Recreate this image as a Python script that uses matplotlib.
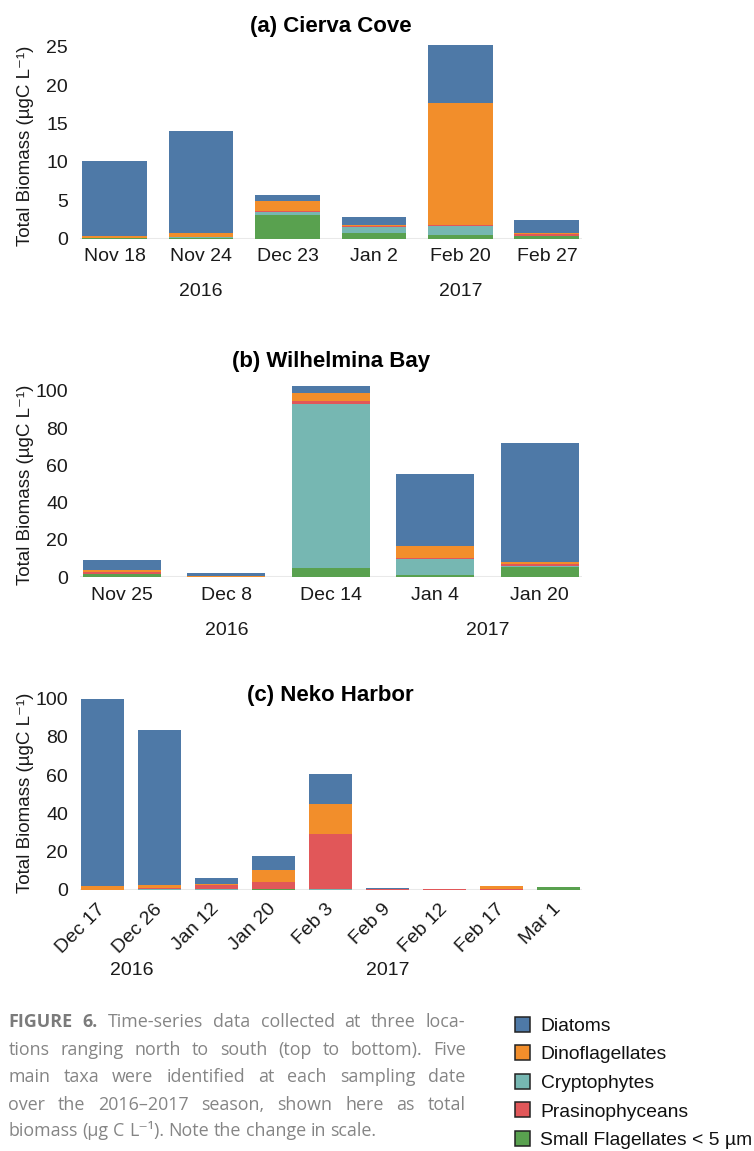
import matplotlib
matplotlib.use('Agg')
import matplotlib.pyplot as plt
from matplotlib.patches import Rectangle
from matplotlib.transforms import blended_transform_factory
import numpy as np

# ---------------- data ----------------
taxa = ['Diatoms', 'Dinoflagellates', 'Cryptophytes', 'Prasinophyceans',
        'Small Flagellates < 5 \u00b5m']
taxa_colors = ['#4e79a7', '#f28e2b', '#76b7b2', '#e15759', '#59a14f']

# (a) Cierva Cove
dates_a = ['Nov 18', 'Nov 24', 'Dec 23', 'Jan 2', 'Feb 20', 'Feb 27']
small_a = [0.05, 0.10, 3.00, 0.75, 0.50, 0.30]
crypto_a = [0.00, 0.05, 0.45, 0.75, 1.10, 0.05]
prasino_a = [0.05, 0.10, 0.15, 0.15, 0.15, 0.30]
dino_a = [0.25, 0.45, 1.30, 0.05, 15.90, 0.05]
diatoms_a = [9.80, 13.30, 0.75, 1.15, 7.60, 1.65]
yticks_a = [0, 5, 10, 15, 20, 25]
years_a = [('2016', 1), ('2017', 4)]

# (b) Wilhelmina Bay
dates_b = ['Nov 25', 'Dec 8', 'Dec 14', 'Jan 4', 'Jan 20']
small_b = [1.6, 0.2, 4.8, 1.1, 5.5]
crypto_b = [0.3, 0.1, 87.9, 8.9, 0.3]
prasino_b = [1.0, 0.1, 1.8, 0.5, 1.5]
dino_b = [1.0, 0.1, 4.1, 6.3, 0.8]
diatoms_b = [5.4, 1.8, 3.9, 38.4, 63.7]
yticks_b = [0, 20, 40, 60, 80, 100]
years_b = [('2016', 1), ('2017', 3.5)]

# (c) Neko Harbor
dates_c = ['Dec 17', 'Dec 26', 'Jan 12', 'Jan 20', 'Feb 3', 'Feb 9', 'Feb 12', 'Feb 17', 'Mar 1']
small_c = [0.1, 0.1, 0.2, 0.5, 0.2, 0.0, 0.0, 0.1, 1.7]
crypto_c = [0.0, 0.6, 0.1, 0.2, 0.1, 0.0, 0.0, 0.0, 0.1]
prasino_c = [0.1, 0.1, 2.4, 3.5, 29.1, 0.4, 0.4, 0.3, 0.0]
dino_c = [2.0, 1.8, 0.6, 6.1, 15.7, 0.3, 0.3, 1.5, 0.0]
diatoms_c = [97.8, 81.0, 3.1, 7.3, 15.7, 0.3, 0.0, 0.4, 0.0]
yticks_c = [0, 20, 40, 60, 80, 100]
years_c = [('2016', 0.5), ('2017', 5)]

caption_lines = [
    'FIGURE 6. Time-series data collected at three loca-',
    'tions ranging north to south (top to bottom). Five',
    'main taxa were identified at each sampling date',
    'over the 2016\u20132017 season, shown here as total',
    'biomass (\u00b5g C L\u207b\u00b9). Note the change in scale.',
]

# ---------------- figure ----------------
W, H = 754, 1151
plt.rcParams['font.family'] = ['Liberation Sans', 'DejaVu Sans']
fig = plt.figure(figsize=(W / 100, H / 100), dpi=100)
fig.patch.set_facecolor('white')


def fx(x):
    return x / W


def fy(y):
    return 1 - y / H


LEFT, RIGHT = 80, 581.5
FS = 14


def panel(rect_bottom_px, ppu, ymax, title, title_y, ylab_y, dates, stack,
          yticks, years, year_y, rotate=False):
    height_px = ymax * ppu
    ax = fig.add_axes([fx(LEFT), fy(rect_bottom_px), fx(RIGHT - LEFT), height_px / H])
    n = len(dates)
    x = np.arange(n)
    bottom = np.zeros(n)
    # stack order bottom -> top
    order = [4, 2, 3, 1, 0]
    for idx in order:
        vals = np.array(stack[idx], dtype=float)
        ax.bar(x, vals, width=0.75, bottom=bottom, color=taxa_colors[idx],
               linewidth=0, zorder=2)
        bottom += vals
    ax.axhline(0, color='#e9e9e9', lw=1.5, zorder=1)
    ax.set_xlim(-0.4, n - 0.6)
    ax.set_ylim(0, ymax)
    for s in ax.spines.values():
        s.set_visible(False)
    ax.set_yticks(yticks)
    ax.set_yticklabels([str(t) for t in yticks], fontsize=FS)
    ax.set_xticks(x)
    if rotate:
        ax.set_xticklabels(dates, fontsize=FS, rotation=45, ha='right',
                           va='center', rotation_mode='anchor')
        ax.tick_params(axis='x', length=0, pad=12)
    else:
        ax.set_xticklabels(dates, fontsize=FS)
        ax.tick_params(axis='x', length=0, pad=7)
    ax.tick_params(axis='y', length=0, pad=8.5, colors='#1a1a1a')
    ax.tick_params(axis='x', colors='#1a1a1a')
    tr = blended_transform_factory(ax.transData, fig.transFigure)
    for label, pos in years:
        ax.text(pos, fy(year_y), label, transform=tr, ha='center', va='baseline',
                fontsize=FS, color='#1a1a1a')
    fig.text(fx((LEFT + RIGHT) / 2), fy(title_y), title, ha='center', va='baseline',
             fontsize=16, fontweight='bold', color='black')
    fig.text(fx(25), fy(ylab_y), 'Total Biomass (\u00b5gC L\u207b\u00b9)', rotation=90,
             ha='center', va='center', fontsize=13.5, color='#1a1a1a')
    return ax


panel(238.5, 7.672, 26, '(a) Cierva Cove', 32, 146, dates_a,
      [diatoms_a, dino_a, crypto_a, prasino_a, small_a], yticks_a, years_a, 296)
panel(577.3, 1.866, 105, '(b) Wilhelmina Bay', 366.5, 485, dates_b,
      [diatoms_b, dino_b, crypto_b, prasino_b, small_b], yticks_b, years_b, 635)
panel(890, 1.913, 102, '(c) Neko Harbor', 700.5, 793, dates_c,
      [diatoms_c, dino_c, crypto_c, prasino_c, small_c], yticks_c, years_c, 975,
      rotate=True)

# ---------------- legend ----------------
row0, row_step = 1024, 28.6
for i, (name, col) in enumerate(zip(taxa, taxa_colors)):
    cy = row0 + i * row_step
    fig.patches.append(Rectangle((fx(515), fy(cy + 7.5)), 15 / W, 15 / H,
                                 transform=fig.transFigure, facecolor=col,
                                 edgecolor='#222222', lw=1.1))
    fig.text(fx(540.5), fy(cy + 6.8), name, ha='left', va='baseline',
             fontsize=13.9, color='#111111')

# ---------------- caption (justified) ----------------
fig.canvas.draw()
renderer = fig.canvas.get_renderer()
cap_family = ['Open Sans', 'DejaVu Sans']
cap_fs = 12.9
cap_color = '#858585'
X0, X1 = 8.3, 465.5
baselines = [1027.3, 1054.8, 1082.3, 1109.8, 1136.3]


def tprops(bold):
    return dict(fontsize=cap_fs, family=cap_family,
                fontweight='bold' if bold else 'normal',
                color='#7b7b7b' if bold else cap_color)


def width_of(s, bold):
    t = fig.text(0, 0, s, **tprops(bold))
    w = t.get_window_extent(renderer).width
    t.remove()
    return w


space_w = width_of('a a', False) - width_of('aa', False)
for li, line in enumerate(caption_lines):
    words = line.split(' ')
    bolds = [li == 0 and k < 2 for k in range(len(words))]
    widths = [width_of(w, b) for w, b in zip(words, bolds)]
    if li < len(caption_lines) - 1:
        gap = (X1 - X0 - sum(widths)) / (len(words) - 1)
        gap = max(gap, 0.6 * space_w)
    else:
        gap = space_w
    xcur = X0
    for w, b, wd in zip(words, bolds, widths):
        fig.text(fx(xcur), fy(baselines[li]), w, ha='left', va='baseline', **tprops(b))
        xcur += wd + gap

fig.savefig('out.png', dpi=100, facecolor='white')
